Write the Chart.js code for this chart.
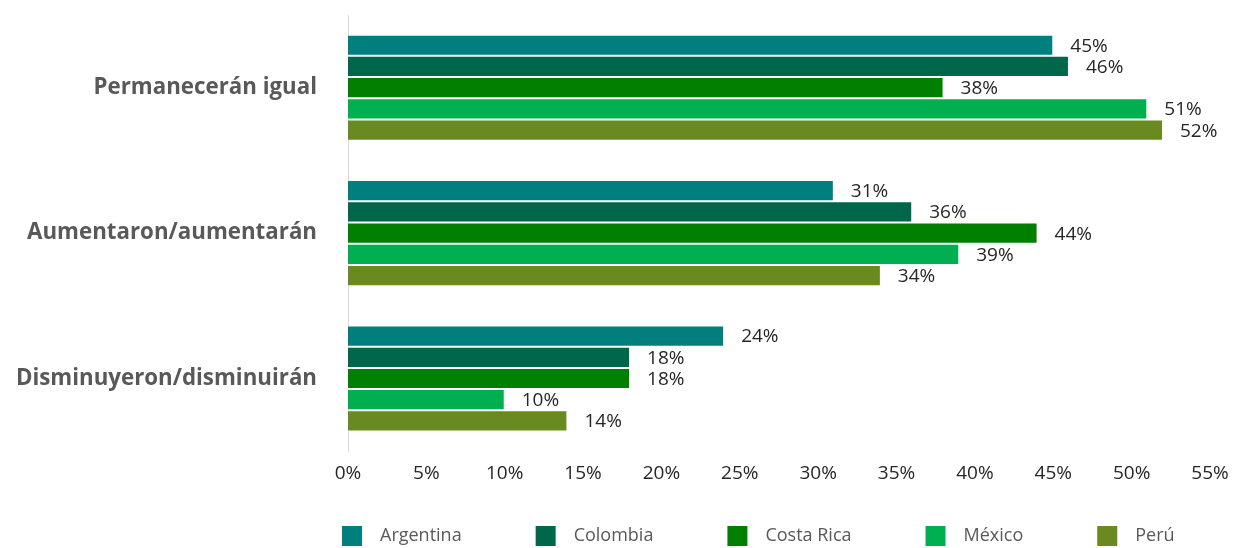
<!DOCTYPE html>
<html>
<head>
<meta charset="utf-8">
<script src="https://cdn.jsdelivr.net/npm/chart.js@4"></script>
<style>
  html, body { margin: 0; padding: 0; background: #fff; }
  #wrap { width: 1233px; height: 548px; }
</style>
</head>
<body>
<div id="wrap"><canvas id="chart"></canvas></div>
<script>
const categories = ['Permanecerán igual', 'Aumentaron/aumentarán', 'Disminuyeron/disminuirán'];
const countries = ['Argentina', 'Colombia', 'Costa Rica', 'México', 'Perú'];
const argentina = [45, 31, 24];
const colombia = [46, 36, 18];
const costaRica = [38, 44, 18];
const mexico = [51, 39, 10];
const peru = [52, 34, 14];
const xTicks = [0, 5, 10, 15, 20, 25, 30, 35, 40, 45, 50, 55];

const colors = ['#007f7f', '#00674a', '#007f00', '#00b050', '#688a1f'];
const seriesValues = [argentina, colombia, costaRica, mexico, peru];

// value labels next to each bar
const valueLabels = {
    id: 'valueLabels',
    afterDatasetsDraw(chart) {
        const ctx = chart.ctx;
        ctx.save();
        ctx.font = '19px "Open Sans"';
        ctx.fillStyle = '#262626';
        ctx.textAlign = 'left';
        ctx.textBaseline = 'middle';
        chart.data.datasets.forEach((ds, i) => {
            chart.getDatasetMeta(i).data.forEach((bar, j) => {
                ctx.fillText(ds.data[j] + '%', bar.x + 17, bar.y + 1);
            });
        });
        ctx.restore();
    }
};

// legend with wide gaps, drawn under the axis
const spacedLegend = {
    id: 'spacedLegend',
    afterDraw(chart) {
        const ctx = chart.ctx;
        ctx.save();
        ctx.font = '18px "Open Sans"';
        ctx.textBaseline = 'middle';
        ctx.textAlign = 'left';
        let x = 342;
        const y = 536;
        chart.data.datasets.forEach(ds => {
            ctx.fillStyle = ds.backgroundColor;
            ctx.fillRect(x, y - 10, 20, 20);
            ctx.fillStyle = '#595959';
            ctx.fillText(ds.label, x + 38, y);
            x += 38 + ctx.measureText(ds.label).width + 74;
        });
        ctx.restore();
    }
};

new Chart(document.getElementById('chart'), {
    type: 'bar',
    data: {
        labels: categories,
        datasets: countries.map((name, i) => ({
            label: name,
            data: seriesValues[i],
            backgroundColor: colors[i],
            borderColor: 'rgba(255,255,255,0.45)',
            borderWidth: 1,
            categoryPercentage: 0.73,
            barPercentage: 1.0
        }))
    },
    options: {
        indexAxis: 'y',
        responsive: true,
        maintainAspectRatio: false,
        animation: false,
        layout: {
            padding: { top: 15, right: 23, bottom: 52, left: 0 }
        },
        plugins: {
            legend: { display: false },
            tooltip: { enabled: false }
        },
        scales: {
            x: {
                min: 0,
                max: 55,
                afterBuildTicks(scale) {
                    scale.ticks = xTicks.map(v => ({ value: v }));
                },
                afterFit(scale) {
                    scale.paddingLeft = 0;
                    scale.paddingRight = 0;
                },
                grid: { display: false, drawTicks: false },
                border: { display: false },
                ticks: {
                    padding: 11,
                    color: '#262626',
                    font: { family: 'Open Sans', size: 19 },
                    callback: v => v + '%'
                }
            },
            y: {
                afterFit(scale) {
                    scale.width = 348;
                    scale.paddingTop = 0;
                    scale.paddingBottom = 0;
                },
                grid: { display: false, drawTicks: false },
                border: { display: true, color: '#d9d9d9', width: 1 },
                ticks: {
                    padding: 31,
                    color: '#595959',
                    font: { family: 'Open Sans', size: 22.3, weight: 'bold' }
                }
            }
        }
    },
    plugins: [valueLabels, spacedLegend]
});
</script>
</body>
</html>
